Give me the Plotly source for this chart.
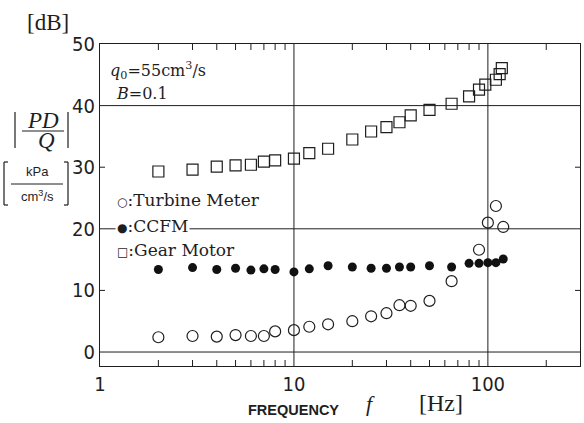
import plotly.graph_objects as go

# ---- data ----
freq_tm = [2, 3, 4, 5, 6, 7, 8, 10, 12, 15, 20, 25, 30, 35, 40, 50, 65, 90, 100, 110, 120]
turbine = [2.4, 2.6, 2.5, 2.75, 2.6, 2.6, 3.35, 3.55, 4.1, 4.5, 5.0, 5.8, 6.3, 7.6, 7.5, 8.3,
           11.5, 16.6, 21.0, 23.7, 20.3]

freq_cc = [2, 3, 4, 5, 6, 7, 8, 10, 12, 15, 20, 25, 30, 35, 40, 50, 65, 80, 90, 100, 110, 120]
ccfm = [13.4, 13.7, 13.4, 13.6, 13.3, 13.5, 13.4, 13.0, 13.5, 14.0, 13.8, 13.6, 13.6, 13.8,
        13.8, 14.0, 13.8, 14.4, 14.4, 14.5, 14.5, 15.1]

freq_gm = [2, 3, 4, 5, 6, 7, 8, 10, 12, 15, 20, 25, 30, 35, 40, 50, 65, 80, 90, 97, 110, 115, 118]
gear = [29.3, 29.6, 30.1, 30.3, 30.4, 30.9, 31.1, 31.4, 32.3, 33.0, 34.5, 35.8, 36.5, 37.3,
        38.4, 39.3, 40.3, 41.5, 42.6, 43.4, 44.2, 45.1, 46.1]

x_major = [1, 10, 100]
x_major_labels = ["1", "10", "100"]
x_minor = [2, 3, 4, 5, 6, 7, 8, 9, 20, 30, 40, 50, 60, 70, 80, 90, 200]
x_grid = [10, 100]
y_ticks = [0, 10, 20, 30, 40, 50]
y_minor = [10, 30]
y_grid = [0, 20, 40]

# ---- layout geometry ----
W, H = 584, 423
L, R, T, B = 100, 580, 44, 366
PW, PH = R - L, B - T
INK = "#1e1e1e"
SERIF = "Liberation Serif, DejaVu Serif, serif"
WSERIF = "DejaVu Serif, Liberation Serif, serif"
COND = "DejaVu Sans Condensed, Liberation Sans Narrow, sans-serif"


def px(x):
    return (x - L) / PW


def py(y):
    return (B - y) / PH


fig = go.Figure()
fig.add_trace(go.Scatter(x=freq_gm, y=gear, mode="markers", name="Gear Motor",
                         marker=dict(symbol="square-open", size=11, color=INK,
                                     line=dict(width=1.2, color=INK))))
fig.add_trace(go.Scatter(x=freq_tm, y=turbine, mode="markers", name="Turbine Meter",
                         marker=dict(symbol="circle-open", size=11, color=INK,
                                     line=dict(width=1.2, color=INK))))
fig.add_trace(go.Scatter(x=freq_cc, y=ccfm, mode="markers", name="CCFM",
                         marker=dict(symbol="circle", size=9, color="#111")))

xr = [0, 2.475]
yr = [-2.27, 50]
fig.update_layout(
    width=W, height=H,
    margin=dict(l=L, r=W - R, t=T, b=H - B, pad=0),
    paper_bgcolor="white", plot_bgcolor="white",
    showlegend=False,
    xaxis=dict(type="log", range=xr, tickvals=x_major, ticktext=x_major_labels,
               ticks="", showgrid=False, showline=True, linecolor=INK, linewidth=1,
               mirror=True, tickfont=dict(family=COND, size=20, color=INK),
               zeroline=False),
    yaxis=dict(range=yr, tickvals=y_ticks, ticks="", showgrid=False, zeroline=False,
               showline=True, linecolor=INK, linewidth=1, mirror=True,
               tickfont=dict(family=COND, size=20, color=INK)),
)

ann = []


def text(x, y, t, size, family=SERIF, xanchor="center", bg=None, color=INK):
    d = dict(x=px(x), y=py(y), xref="paper", yref="paper", text=t, showarrow=False,
             xanchor=xanchor, yanchor="middle", font=dict(family=family, size=size,
                                                          color=color))
    if bg:
        d["bgcolor"] = bg
    ann.append(d)


def sym(s):
    return "<span style='font-size:12px'>" + s + "</span>"


text(48, 23, "[dB]", 23)
text(43, 120, "<i>PD</i>", 23)
text(46, 140, "<i>Q</i>", 23)
text(37, 171, "kPa", 13, family="Liberation Sans, Arial, sans-serif")
text(37, 196, "cm<sup>3</sup>/s", 13, family="Liberation Sans, Arial, sans-serif")
text(108, 70, "<i>q</i><sub>0</sub>=55cm<sup>3</sup>/s", 16, family=WSERIF, xanchor="left")
text(114, 93, "<i>B</i>=0.1", 16, family=WSERIF, xanchor="left")
text(115, 200, sym("○") + ":Turbine Meter", 17, family=WSERIF, xanchor="left", bg="white")
text(115, 226, sym("●") + ":CCFM", 17, family=WSERIF, xanchor="left", bg="white")
text(115, 250, sym("□") + ":Gear Motor", 17, family=WSERIF, xanchor="left", bg="white")
text(293, 410, "<b>FREQUENCY</b>", 14.5, family="Liberation Sans, Arial, sans-serif")
text(370, 404, "<i>f</i>", 22)
text(441, 403, "[Hz]", 24)
fig.update_layout(annotations=ann)

shapes = []
GL = dict(color=INK, width=1)
# grid lines
for v in y_grid:
    shapes.append(dict(type="line", xref="paper", yref="y", x0=0, x1=1, y0=v, y1=v,
                       layer="below", line=GL))
for v in x_grid:
    shapes.append(dict(type="line", xref="x", yref="paper", x0=v, x1=v, y0=0, y1=1,
                       layer="below", line=GL))
# inward ticks (bottom/top minor, left/right at 10 and 30)
tx = 6 / PH
for v in x_minor:
    shapes.append(dict(type="line", xref="x", yref="paper", x0=v, x1=v, y0=0, y1=tx,
                       line=GL))
    shapes.append(dict(type="line", xref="x", yref="paper", x0=v, x1=v, y0=1 - tx, y1=1,
                       line=GL))
ty = 5 / PW
for v in y_minor:
    shapes.append(dict(type="line", xref="paper", yref="y", x0=0, x1=ty, y0=v, y1=v,
                       line=GL))
    shapes.append(dict(type="line", xref="paper", yref="y", x0=1 - ty, x1=1, y0=v, y1=v,
                       line=GL))


def seg(x0, y0, x1, y1, w=1.2):
    shapes.append(dict(type="line", xref="paper", yref="paper", x0=px(x0), y0=py(y0),
                       x1=px(x1), y1=py(y1), line=dict(color=INK, width=w)))


# |PD/Q|
seg(15, 112, 15, 148)
seg(68, 112, 68, 148)
seg(22, 131, 64, 131)
# [kPa / cm3/s]
seg(4, 162, 4, 205)
seg(4, 162, 8, 162)
seg(4, 205, 8, 205)
seg(68, 162, 68, 205)
seg(64, 162, 68, 162)
seg(64, 205, 68, 205)
seg(11, 184, 63, 184, 1)
fig.update_layout(shapes=shapes)

fig.write_html("out.html")
